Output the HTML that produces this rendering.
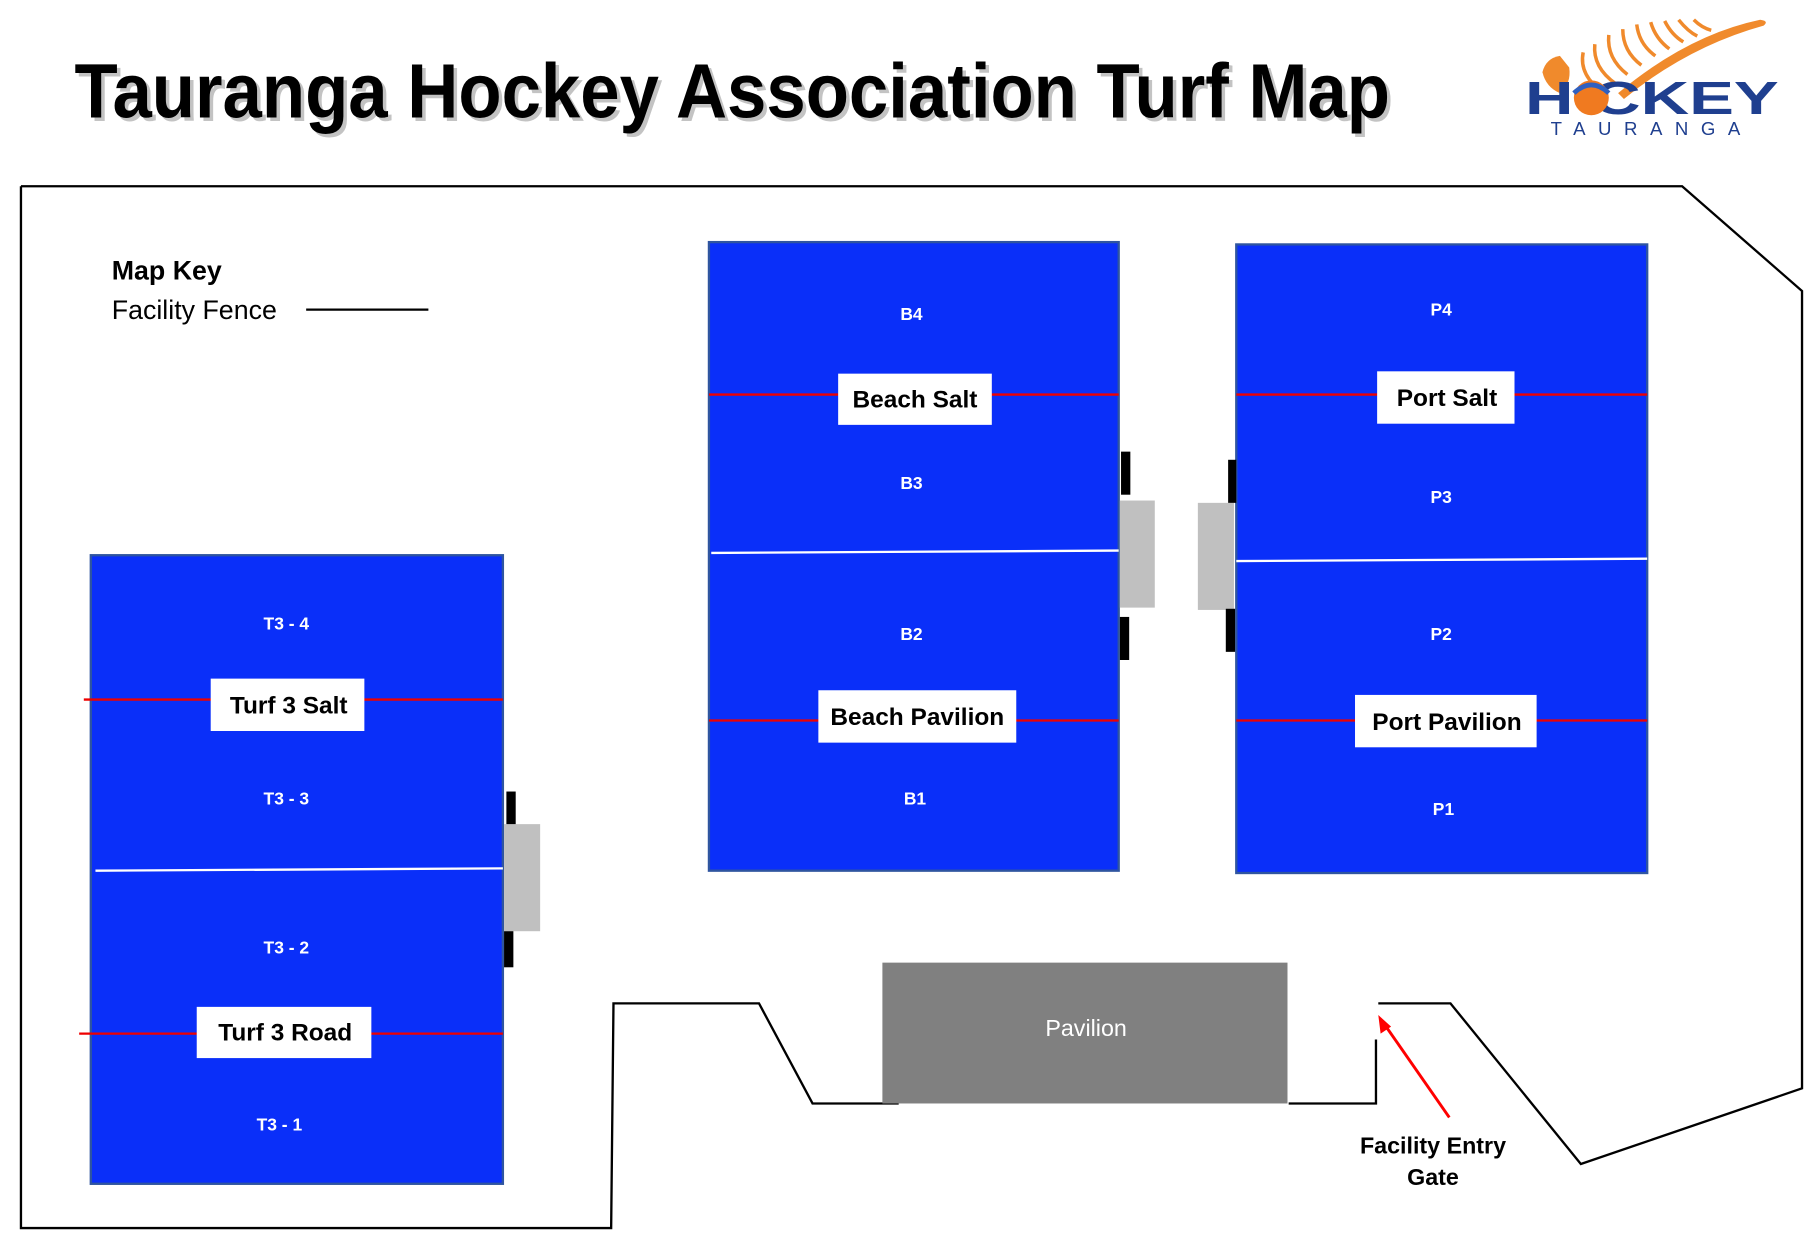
<!DOCTYPE html>
<html><head><meta charset="utf-8"><style>
html,body{margin:0;padding:0;background:#fff;}
svg{display:block;}
text{font-family:"Liberation Sans",sans-serif;}
</style></head><body>
<svg width="1816" height="1242" viewBox="0 0 1560 1067" preserveAspectRatio="none" xmlns="http://www.w3.org/2000/svg">
<rect width="1560" height="1067" fill="#fff"/>
<!-- Title -->
<text x="67" y="104" font-size="66" font-weight="bold" fill="#888" opacity="0.5" textLength="1130" lengthAdjust="spacingAndGlyphs">Tauranga Hockey Association Turf Map</text>
<text x="64" y="101" font-size="66" font-weight="bold" fill="#000" textLength="1130" lengthAdjust="spacingAndGlyphs">Tauranga Hockey Association Turf Map</text>
<!-- Logo -->
<g>
<path d="M1395 85 Q1450 40 1515 22 Q1520 18 1512 17 Q1450 30 1390 80 Z" fill="#f08a2c"/>
<g stroke="#f08a2c" stroke-width="3" fill="none">
<path d="M1360 45 Q1356 65 1378 80"/><path d="M1370 38 Q1368 58 1388 72"/><path d="M1382 30 Q1380 50 1398 64"/>
<path d="M1394 25 Q1394 44 1410 56"/><path d="M1406 21 Q1408 38 1422 48"/><path d="M1418 19 Q1422 33 1434 42"/>
<path d="M1430 18 Q1436 30 1446 36"/><path d="M1442 17 Q1450 27 1458 31"/><path d="M1455 17 Q1462 24 1470 26"/>
</g>
<path d="M1340 48 Q1328 50 1325 62 Q1328 75 1340 80 Q1350 72 1348 58 Z" fill="#f08a2c"/>
<text x="1310" y="98" font-size="40" font-weight="bold" fill="#1f3f8f" textLength="218" lengthAdjust="spacingAndGlyphs">H  CKEY</text>
<circle cx="1367" cy="84" r="15" fill="#f07a20"/>
<path d="M1352 80 Q1367 66 1382 80" stroke="#3060c0" stroke-width="4" fill="none"/>
<text x="1332" y="116" font-size="16" fill="#1f3f8f" letter-spacing="9" textLength="172" lengthAdjust="spacing">TAURANGA</text>
</g>
<!-- Fence -->
<g stroke="#000" stroke-width="2" fill="none">
<polyline points="18,160 1445,160 1548,250 1548,935 1358,1000 1246,862 1184,862"/>
<polyline points="1182,893 1182,948 1107,948"/>
<polyline points="772,948 698,948 652,862 527,862 525,1055 18,1055 18,160"/>
</g>
<!-- Key -->
<text x="96" y="240" font-size="23" font-weight="bold" fill="#000">Map Key</text>
<text x="96" y="274" font-size="23" fill="#000">Facility Fence</text>
<line x1="263" y1="266" x2="368" y2="266" stroke="#000" stroke-width="2"/>
<!-- Field B -->
<rect x="609" y="208" width="352" height="540" fill="#0a2ff9" stroke="#2f55a0" stroke-width="2"/>
<line x1="609" y1="339" x2="961" y2="339" stroke="#e00" stroke-width="2"/>
<line x1="611" y1="475" x2="961" y2="473" stroke="#fff" stroke-width="2"/>
<line x1="609" y1="619" x2="961" y2="619" stroke="#e00" stroke-width="2"/>
<rect x="720" y="321" width="132" height="44" fill="#fff"/>
<text x="786" y="350" font-size="21" font-weight="bold" text-anchor="middle">Beach Salt</text>
<rect x="703" y="593" width="170" height="45" fill="#fff"/>
<text x="788" y="623" font-size="21" font-weight="bold" text-anchor="middle">Beach Pavilion</text>
<g font-size="15" font-weight="bold" fill="#fff" text-anchor="middle">
<text x="783" y="275">B4</text><text x="783" y="420">B3</text><text x="783" y="550">B2</text><text x="786" y="691">B1</text>
</g>
<!-- Field P -->
<rect x="1062" y="210" width="353" height="540" fill="#0a2ff9" stroke="#2f55a0" stroke-width="2"/>
<line x1="1062" y1="339" x2="1415" y2="339" stroke="#e00" stroke-width="2"/>
<line x1="1062" y1="482" x2="1415" y2="480" stroke="#fff" stroke-width="2"/>
<line x1="1062" y1="619" x2="1415" y2="619" stroke="#e00" stroke-width="2"/>
<rect x="1183" y="319" width="118" height="45" fill="#fff"/>
<text x="1243" y="349" font-size="21" font-weight="bold" text-anchor="middle">Port Salt</text>
<rect x="1164" y="597" width="156" height="45" fill="#fff"/>
<text x="1243" y="627" font-size="21" font-weight="bold" text-anchor="middle">Port Pavilion</text>
<g font-size="15" font-weight="bold" fill="#fff" text-anchor="middle">
<text x="1238" y="271">P4</text><text x="1238" y="432">P3</text><text x="1238" y="550">P2</text><text x="1240" y="700">P1</text>
</g>
<!-- Field T3 -->
<rect x="78" y="477" width="354" height="540" fill="#0a2ff9" stroke="#2f55a0" stroke-width="2"/>
<line x1="72" y1="601" x2="432" y2="601" stroke="#e00" stroke-width="2"/>
<line x1="82" y1="748" x2="432" y2="746" stroke="#fff" stroke-width="2"/>
<line x1="68" y1="888" x2="432" y2="888" stroke="#e00" stroke-width="2"/>
<rect x="181" y="583" width="132" height="45" fill="#fff"/>
<text x="248" y="613" font-size="21" font-weight="bold" text-anchor="middle">Turf 3 Salt</text>
<rect x="169" y="865" width="150" height="44" fill="#fff"/>
<text x="245" y="894" font-size="21" font-weight="bold" text-anchor="middle">Turf 3 Road</text>
<g font-size="15" font-weight="bold" fill="#fff" text-anchor="middle">
<text x="246" y="541">T3 - 4</text><text x="246" y="691">T3 - 3</text><text x="246" y="819">T3 - 2</text><text x="240" y="971">T3 - 1</text>
</g>
<!-- gates/shelters -->
<rect x="962" y="430" width="30" height="92" fill="#c0c0c0"/>
<rect x="1029" y="432" width="31" height="92" fill="#c0c0c0"/>
<rect x="963" y="388" width="8" height="37" fill="#000"/>
<rect x="962" y="530" width="8" height="37" fill="#000"/>
<rect x="1055" y="395" width="7" height="37" fill="#000"/>
<rect x="1053" y="523" width="8" height="37" fill="#000"/>
<rect x="433" y="708" width="31" height="92" fill="#c0c0c0"/>
<rect x="435" y="680" width="8" height="28" fill="#000"/>
<rect x="433" y="800" width="8" height="31" fill="#000"/>
<!-- Pavilion -->
<rect x="758" y="827" width="348" height="121" fill="#808080"/>
<text x="933" y="890" font-size="20" fill="#fff" text-anchor="middle">Pavilion</text>
<!-- Arrow -->
<line x1="1245" y1="960" x2="1190" y2="881" stroke="#f00" stroke-width="2.5"/>
<polygon points="1184,872 1186,888 1195,882" fill="#f00"/>
<text x="1231" y="991" font-size="20" font-weight="bold" text-anchor="middle">Facility Entry</text>
<text x="1231" y="1018" font-size="20" font-weight="bold" text-anchor="middle">Gate</text>
</svg>
</body></html>
